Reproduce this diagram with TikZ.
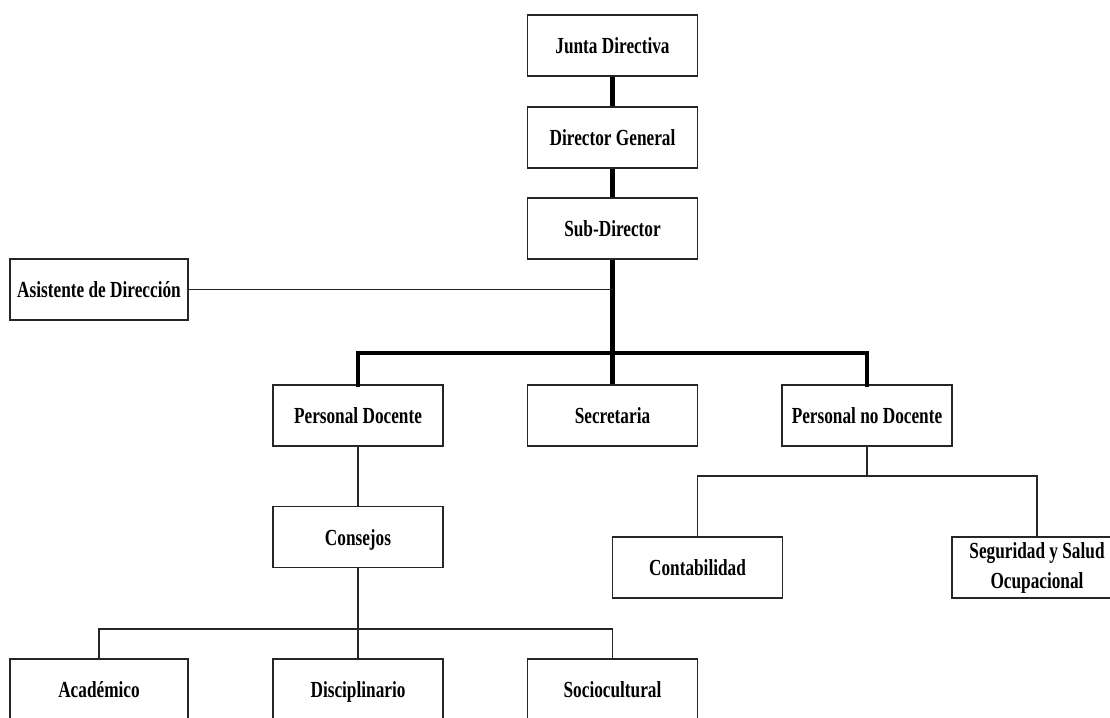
\documentclass[tikz,border=0pt]{standalone}
\usepackage{fontspec}
\setmainfont{Liberation Serif}[FakeStretch=0.75]
\begin{document}
\begin{tikzpicture}[x=1pt,y=-1pt,
  orgbase/.style={draw=black!85, line width=1.3pt, fill=white, minimum width=170pt, minimum height=61pt,
     inner sep=0pt, align=center, font=\fontsize{23}{30}\selectfont\bfseries},
  orgbox/.style={orgbase, text height=16pt, text depth=0pt},
  thin/.style={draw=black!85, line width=1.3pt},
  thick/.style={draw=black, line width=4.5pt}]
\useasboundingbox (0,0) rectangle (1110,717);
\begin{scope}
\clip (0,0) rectangle (1110,717);
% top chain
\node[orgbox] (jd) at (612.5,45.5) {Junta Directiva};
\node[orgbox] (dg) at (612.5,137.5) {Director General};
\node[orgbox] (sd) at (612.5,228.5) {Sub-Director};
\node[orgbox, minimum width=178pt] (ad) at (99,289.5) {Asistente de Dirección};
% second row
\node[orgbox] (pd) at (358,415.5) {Personal Docente};
\node[orgbox] (sec) at (612.5,415.5) {Secretaria};
\node[orgbox] (pnd) at (867,415.5) {Personal no Docente};
% third
\node[orgbox] (con) at (358,537) {Consejos};
\node[orgbox] (cont) at (697.5,567.5) {Contabilidad};
\node[orgbase] (seg) at (1037,567.5) {\raisebox{-4pt}{\begin{tabular}{@{}c@{}}Seguridad y Salud\\Ocupacional\end{tabular}}};
% bottom
\node[orgbox, minimum width=178pt] (aca) at (99,689.5) {Académico};
\node[orgbox] (dis) at (358,689.5) {Disciplinario};
\node[orgbox] (soc) at (612.5,689.5) {Sociocultural};

% connectors
\coordinate (bar) at (612.5,353);
\draw[thick] (jd.south) -- (dg.north);
\draw[thick] (dg.south) -- (sd.north);
\draw[thick] (sd.south) -- (sec.north);
\draw[thin] (ad.east) -- (ad.east -| sd.south);
\draw[thick, line cap=rect] (pd.north) |- (bar) -| (pnd.north);
\draw[thin] (pd.south) -- (con.north);
\coordinate (j1) at (867,476);
\draw[thin] (pnd.south) -- (j1);
\draw[thin] (cont.north) |- (j1) -| (seg.north);
\coordinate (j2) at (358,629);
\draw[thin] (con.south) -- (dis.north);
\draw[thin] (aca.north) |- (j2) -| (soc.north);
\end{scope}
\end{tikzpicture}
\end{document}
